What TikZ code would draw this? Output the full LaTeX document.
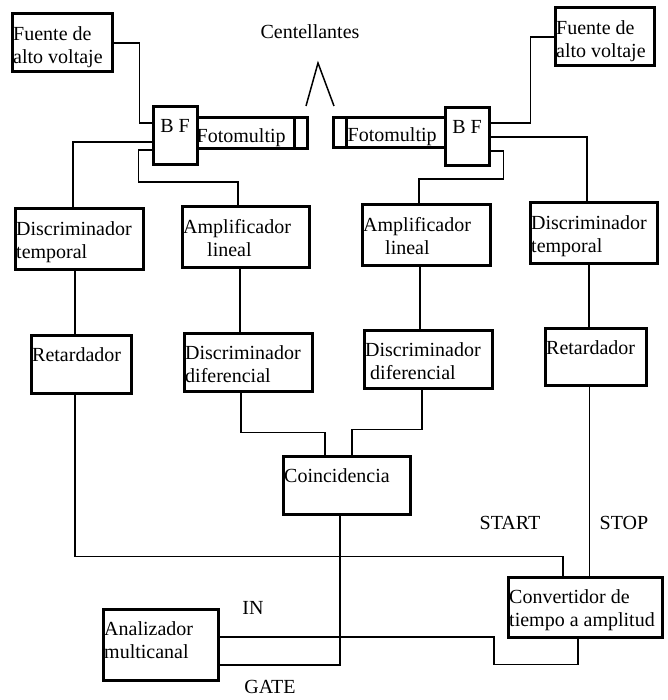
\documentclass[tikz,border=0pt]{standalone}
\usepackage{fontspec}
\setmainfont{Liberation Serif}
\usepackage{tikz}
\usetikzlibrary{positioning, calc}
\tikzset{
  unit/.style={
    rectangle, draw=black, line width=3pt, fill=white,
    inner sep=0pt
  },
  size/.style 2 args={minimum width=#1pt, minimum height=#2pt},
  tag/.style={
    anchor=north west, inner sep=2.5pt, align=left, yshift=-11pt,
    font=\fontsize{20}{23}\selectfont
  },
  sig/.style={font=\fontsize{20}{23}\selectfont, inner sep=0pt},
  wire/.style={line width=1.5pt, draw=black}
}

\begin{document}
\begin{tikzpicture}[x=1pt, y=-1pt]
  \useasboundingbox (0,0) rectangle (667,700);

  \node[unit, size={100}{58}, label={[tag]north west:{Fuente de\\alto voltaje}}] (hvL) at (62,43) {};
  \node[unit, size={99}{58}, label={[tag]north west:{Fuente de\\alto voltaje}}] (hvR) at (604.5,37) {};
  \node[unit, size={44}{58}, label={[tag, anchor=north]north:B F}] (bfL) at (175,136) {};
  \node[unit, size={110}{31}, label={[tag, anchor=west, inner sep=1pt, yshift=7pt]west:Fotomultip}] (tubeL) at (252,133.5) {};
  \node[unit, size={114}{30}, label={[tag, anchor=west, inner sep=1pt, xshift=15pt, yshift=7pt]west:Fotomultip}] (tubeR) at (390,133) {};
  \node[unit, size={44}{58}, label={[tag, anchor=north]north:B F}] (bfR) at (467,137) {};
  \node[sig] (scint) at (310,32) {Centellantes};

  \node[unit, size={128}{60}, label={[tag]north west:{Discriminador\\temporal}}] (dtL) at (79,239) {};
  \node[unit, size={127}{60}, label={[tag]north west:{Amplificador\\\hspace*{24pt}lineal}}] (amL) at (245.5,237) {};
  \node[unit, size={128}{60}, label={[tag]north west:{Amplificador\\\hspace*{22pt}lineal}}] (amR) at (426,235) {};
  \node[unit, size={127}{60}, label={[tag]north west:{Discriminador\\temporal}}] (dtR) at (593.5,233) {};

  \node[unit, size={100}{58}, label={[tag]north west:Retardador}] (retL) at (81,364) {};
  \node[unit, size={128}{58}, label={[tag]north west:{Discriminador\\diferencial}}] (ddL) at (248,362) {};
  \node[unit, size={128}{58}, label={[tag]north west:{Discriminador\\\hspace*{5pt}diferencial}}] (ddR) at (428,359) {};
  \node[unit, size={101}{57}, label={[tag]north west:Retardador}] (retR) at (595.5,356.5) {};

  \node[unit, size={127}{58}, label={[tag]north west:Coincidencia}] (coin) at (346.5,485) {};
  \node[unit, size={154}{60}, label={[tag]north west:{Convertidor de\\tiempo a amplitud}}] (conv) at (585,607) {};
  \node[unit, size={115}{71}, label={[tag]north west:{Analizador\\multicanal}}] (anal) at (160.5,644.5) {};

  \node[sig] (start) at (510,523) {START};
  \node[sig] (stop) at (624,523) {STOP};
  \node[sig] (in) at (253,608) {IN};
  \node[sig] (gate) at (270,687) {GATE};

  \draw[line width=3pt] ([xshift=-14pt]tubeL.north east) -- ([xshift=-14pt]tubeL.south east);
  \draw[line width=3pt] ([xshift=15pt]tubeR.north west) -- ([xshift=15pt]tubeR.south west);
  \draw[wire] (306,106) -- (318,63) -- (334,106);

  \draw[wire] (hvL.east) -- ++(26,0) |- ([yshift=13pt]bfL.west);
  \draw[wire] ([yshift=-6pt]bfL.west) -| ([xshift=-6pt]dtL.north);
  \draw[wire] ([yshift=-14pt]bfL.west) -- ++(-13,0) -- ++(0,32) -| ([xshift=-7.5pt]amL.north);
  \draw[wire] ([yshift=14pt]bfR.east) -- ++(40,0) |- (hvR.west);
  \draw[wire] (bfR.east) -| ([xshift=-6.5pt]dtR.north);
  \draw[wire] ([yshift=-14pt]bfR.east) -- ++(13,0) -- ++(0,28) -| ([xshift=-7pt]amR.north);

  \draw[wire] ([xshift=-6pt]retL.north) -- ([xshift=-6pt]retL.north |- dtL.south);
  \draw[wire] ([xshift=-8pt]ddL.north) -- ([xshift=-8pt]ddL.north |- amL.south);
  \draw[wire] ([xshift=-8pt]ddR.north) -- ([xshift=-8pt]ddR.north |- amR.south);
  \draw[wire] ([xshift=-6.5pt]retR.north) -- ([xshift=-6.5pt]retR.north |- dtR.south);

  \draw[wire] ([xshift=-7pt]ddL.south) -- ++(0,40) -| ([xshift=-21.5pt]coin.north);
  \draw[wire] ([xshift=-6pt]ddR.south) -- ++(0,40) -| ([xshift=5.5pt]coin.north);

  \draw[wire] ([xshift=-6pt]retL.south) -- ++(0,162) -| ([xshift=-22pt]conv.north);
  \draw[wire] ([xshift=-6pt]retR.south) -- ([xshift=-6pt]retR.south |- conv.north);
  \draw[wire] ([xshift=-6.5pt]coin.south) |- ([yshift=-20.5pt]anal.east);
  \draw[wire] ([xshift=-7pt]conv.south) -- ++(0,26) -- ++(-84,0) |- ([yshift=7.5pt]anal.east);
\end{tikzpicture}
\end{document}
